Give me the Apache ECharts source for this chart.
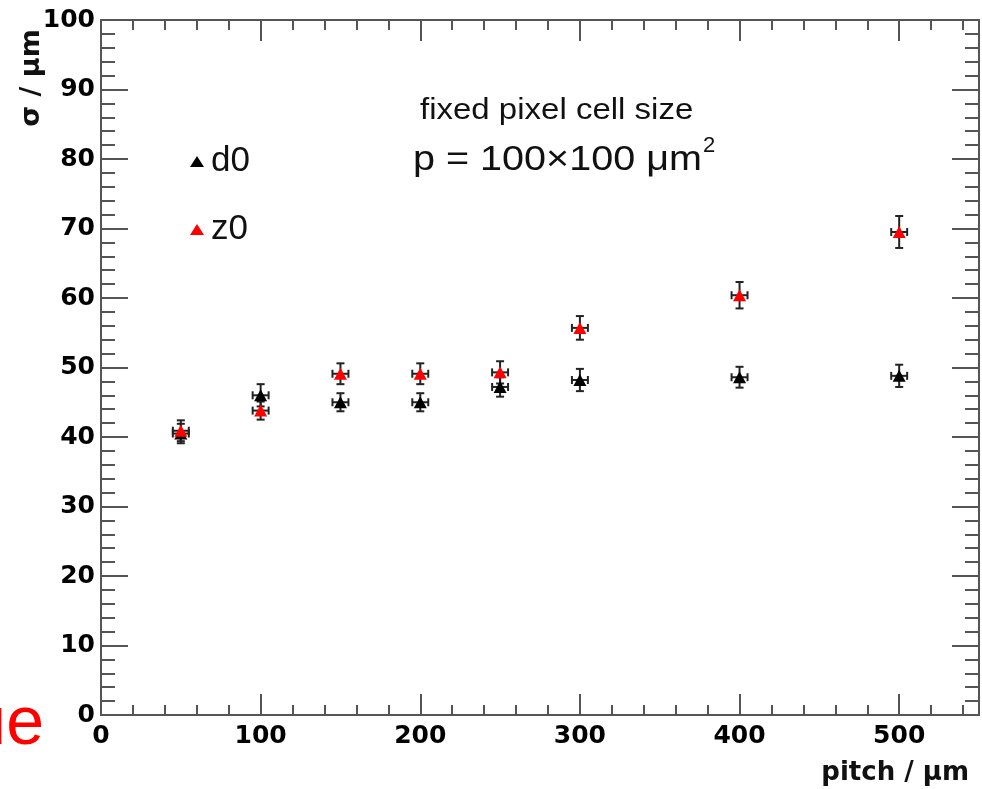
<!DOCTYPE html>
<html>
<head>
<meta charset="utf-8">
<script src="https://cdn.jsdelivr.net/npm/echarts@6/dist/echarts.min.js"></script>
<style>
  html, body { margin: 0; padding: 0; background: #fff; }
  #chart { width: 982px; height: 789px; }
</style>
</head>
<body>
<div id="chart"></div>
<script>
// pitch in um, resolution in um
const pitch = [50, 100, 150, 200, 250, 300, 400, 500];
const pitchErr = [5, 5, 5, 5, 5, 5, 5, 5];
const d0 = [40.5, 46.0, 45.0, 45.0, 47.2, 48.2, 48.6, 48.8];
const d0Err = [1.4, 1.6, 1.3, 1.3, 1.4, 1.6, 1.5, 1.6];
const z0 = [40.9, 43.8, 49.1, 49.1, 49.3, 55.7, 60.4, 69.5];
const z0Err = [1.5, 1.3, 1.5, 1.5, 1.6, 1.7, 1.9, 2.3];

const axisColor = '#555';
const labelFont = { fontFamily: 'DejaVu Sans', fontWeight: 'bold', fontSize: 25, color: '#000' };

function points(ys, errs) {
  return pitch.map((x, i) => [x, ys[i], pitchErr[i], errs[i]]);
}

// error bars with end caps, like ROOT "E1"
function renderErr(params, api) {
  const x = api.value(0), y = api.value(1), ex = api.value(2), ey = api.value(3);
  const c = api.coord([x, y]);
  const top = api.coord([x, y + ey])[1];
  const bot = api.coord([x, y - ey])[1];
  const left = api.coord([x - ex, y])[0];
  const right = api.coord([x + ex, y])[0];
  const cap = 4;
  const style = { stroke: '#222', lineWidth: 2 };
  const line = (x1, y1, x2, y2) => ({ type: 'line', shape: { x1, y1, x2, y2 }, style });
  return {
    type: 'group',
    children: [
      line(c[0], top, c[0], bot),
      line(c[0] - cap, top, c[0] + cap, top),
      line(c[0] - cap, bot, c[0] + cap, bot),
      line(left, c[1], right, c[1]),
      line(left, c[1] - cap, left, c[1] + cap),
      line(right, c[1] - cap, right, c[1] + cap)
    ]
  };
}

function xAxisDef(position, interval, len, showLabel) {
  return {
    type: 'value', min: 0, max: 550, interval: interval, position: position,
    axisLine: { show: true, onZero: false, lineStyle: { color: axisColor, width: 2 } },
    axisTick: { show: true, inside: true, length: len, lineStyle: { color: axisColor, width: 2 } },
    axisLabel: Object.assign({ show: showLabel, margin: 9, showMaxLabel: false }, labelFont),
    splitLine: { show: false }
  };
}

function yAxisDef(position, showLabel) {
  return {
    type: 'value', min: 0, max: 100, interval: 10, position: position,
    axisLine: { show: true, onZero: false, lineStyle: { color: axisColor, width: 2 } },
    axisTick: { show: true, inside: true, length: 27, lineStyle: { color: axisColor, width: 2 } },
    minorTick: { show: true, splitNumber: 5, length: 14, lineStyle: { color: axisColor, width: 2 } },
    axisLabel: Object.assign({ show: showLabel, margin: 6 }, labelFont),
    splitLine: { show: false }
  };
}

const chart = echarts.init(document.getElementById('chart'));
chart.setOption({
  animation: false,
  backgroundColor: '#fff',
  grid: { left: 101, right: 3, top: 20, bottom: 74, containLabel: false },
  xAxis: [
    xAxisDef('bottom', 100, 21, true),
    xAxisDef('bottom', 20, 10, false),
    xAxisDef('top', 100, 21, false),
    xAxisDef('top', 20, 10, false)
  ],
  yAxis: [
    yAxisDef('left', true),
    yAxisDef('right', false)
  ],
  legend: {
    data: ['d0', 'z0'],
    orient: 'vertical',
    left: 185, top: 139,
    icon: 'triangle',
    itemWidth: 14, itemHeight: 11,
    itemGap: 33,
    textStyle: { fontFamily: 'Liberation Sans', fontSize: 35, color: '#111', padding: [0, 0, 0, 2] },
    selectedMode: false
  },
  graphic: [
    { type: 'text', x: 32, y: 78, rotation: Math.PI / 2,
      style: { text: '\u03c3 / \u03bcm', fontFamily: 'DejaVu Sans', fontWeight: 'bold', fontSize: 27,
               fill: '#111', textAlign: 'center', textVerticalAlign: 'middle' } },
    { type: 'text', x: 969, y: 773,
      style: { text: 'pitch / \u03bcm', fontFamily: 'DejaVu Sans', fontWeight: 'bold', fontSize: 26,
               fill: '#111', textAlign: 'right', textVerticalAlign: 'middle' } },
    { type: 'text', x: 420, y: 111, scaleX: 1.1,
      style: { text: 'fixed pixel cell size', fontFamily: 'Liberation Sans', fontSize: 30,
               fill: '#111', textAlign: 'left', textVerticalAlign: 'middle' } },
    { type: 'text', x: 413, y: 160, scaleX: 1.13,
      style: { text: 'p = 100\u00d7100 \u03bcm', fontFamily: 'Liberation Sans', fontSize: 35,
               fill: '#111', textAlign: 'left', textVerticalAlign: 'middle' } },
    { type: 'text', x: 703, y: 146,
      style: { text: '2', fontFamily: 'Liberation Sans', fontSize: 22,
               fill: '#111', textAlign: 'left', textVerticalAlign: 'middle' } },
    { type: 'text', x: 44, y: 725,
      style: { text: 'ue', fontFamily: 'Liberation Sans', fontSize: 68,
               fill: '#ff0000', textAlign: 'right', textVerticalAlign: 'middle' } }
  ],
  series: [
    { name: 'd0 err', type: 'custom', renderItem: renderErr, data: points(d0, d0Err),
      encode: { x: 0, y: 1 }, silent: true },
    { name: 'd0', type: 'scatter', data: pitch.map((x, i) => [x, d0[i]]),
      symbol: 'triangle', symbolSize: [13, 12], itemStyle: { color: '#000', opacity: 1 } },
    { name: 'z0 err', type: 'custom', renderItem: renderErr, data: points(z0, z0Err),
      encode: { x: 0, y: 1 }, silent: true },
    { name: 'z0', type: 'scatter', data: pitch.map((x, i) => [x, z0[i]]),
      symbol: 'triangle', symbolSize: [13, 12], itemStyle: { color: '#ff0000', opacity: 1 } }
  ]
});
</script>
</body>
</html>
